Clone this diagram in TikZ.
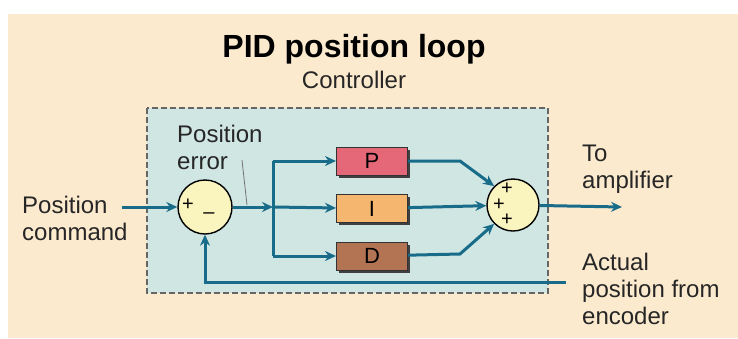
\documentclass[tikz,border=0pt]{standalone}
\usepackage{fontspec}
\setmainfont{Liberation Sans}
\usetikzlibrary{arrows.meta,positioning,shadows}
\definecolor{peach}{RGB}{252,234,206}
\definecolor{panel}{RGB}{208,230,226}
\definecolor{wireblue}{RGB}{24,108,138}
\definecolor{sumfill}{RGB}{250,244,190}
\definecolor{pfill}{RGB}{229,104,120}
\definecolor{ifill}{RGB}{245,182,112}
\definecolor{dfill}{RGB}{178,116,82}
\tikzset{
  label text/.style={font=\fontsize{24}{27}\selectfont, text=black!85, inner sep=0pt, align=left},
  sum node/.style={circle, draw=black, line width=1.4pt, fill=sumfill,
    minimum size=#1, inner sep=0pt},
  sum node/.default=54pt,
  gain box/.style={draw=black!80, line width=1pt, fill=#1,
    minimum width=71pt, minimum height=28pt, inner sep=0pt,
    font=\fontsize{22}{22}\selectfont,
    drop shadow={shadow xshift=2.5pt, shadow yshift=-2.5pt, fill=black!75, opacity=1}},
  wire/.style={draw=wireblue, line width=3pt},
  flow/.style={wire, -{Stealth[length=11pt,width=10pt]}},
  sign/.style={font=\fontsize{20}{20}\selectfont, inner sep=0pt}
}
\begin{document}
\begin{tikzpicture}[x=1pt,y=-1pt]
    \useasboundingbox (0,0) rectangle (738,338);
    \fill[peach] (8,14) rectangle (738,338);
    % headings
    \node[font=\bfseries\fontsize{32}{32}\selectfont, anchor=base] (title) at (354,57) {PID position loop};
    \node[label text, anchor=base] (ctrl) at (354,88) {Controller};
    % controller frame
    \draw[fill=panel, draw=black!60, line width=2.2pt, dash pattern=on 6pt off 3pt] (147,108) rectangle (548,293);
    % summing junctions
    \node[sum node] (sumerr) at (205,207) {};
    \node[sign] (plus1) at (188,205) {+};
    \node[sign] (minus1) at (209,216) {--};
    \node[sum node=52pt] (sumout) at (513,205) {};
    \node[sign] (plusa) at (507,189) {+};
    \node[sign] (plusb) at (499,205) {+};
    \node[sign] (plusc) at (507,220) {+};
    % gains
    \node[gain box=pfill] (pbox) at (372,161) {P};
    \node[gain box=ifill, below=18.5pt of pbox] (ibox) {I};
    \node[gain box=dfill, below=18.5pt of ibox] (dbox) {D};
    % labels (base = last line)
    \node[label text, anchor=base west] (cmd) at (22,240) {Position\\command};
    \node[label text, anchor=base west] (err) at (177,169) {Position\\error};
    \node[label text, anchor=base west] (amplabel) at (582,188) {To\\amplifier};
    \node[label text, anchor=base west] (enclabel) at (582,324) {Actual\\position from\\encoder};
    % connector points
    \coordinate (cmdend) at (122,207);
    \coordinate (branch) at (273,207);
    \coordinate (ptap) at (branch |- pbox);
    \coordinate (dtap) at (branch |- dbox);
    \coordinate (pbend) at (460,161);
    \coordinate (dbend) at (460,254);
    \coordinate (amp) at (622,207);
    \coordinate (enc) at (566,282);
    % signal paths
    \draw[flow] (cmdend) -- (sumerr);
    \draw[flow] (sumerr) -- (branch);
    \draw[wire] (ptap) -- (dtap);
    \draw[flow] (ptap) -- (pbox);
    \draw[flow] (branch) -- (ibox);
    \draw[flow] (dtap) -- (dbox);
    \draw[flow] (pbox) -- (pbend) -- (sumout.135);
    \draw[flow] (ibox) -- (sumout);
    \draw[flow] (dbox) -- (dbend) -- (sumout.225);
    \draw[flow] (sumout) -- (amp);
    \draw[flow] (enc) -| (sumerr);
    \draw[black!55, line width=0.8pt] (242,160) -- (247,205);
\end{tikzpicture}
\end{document}
